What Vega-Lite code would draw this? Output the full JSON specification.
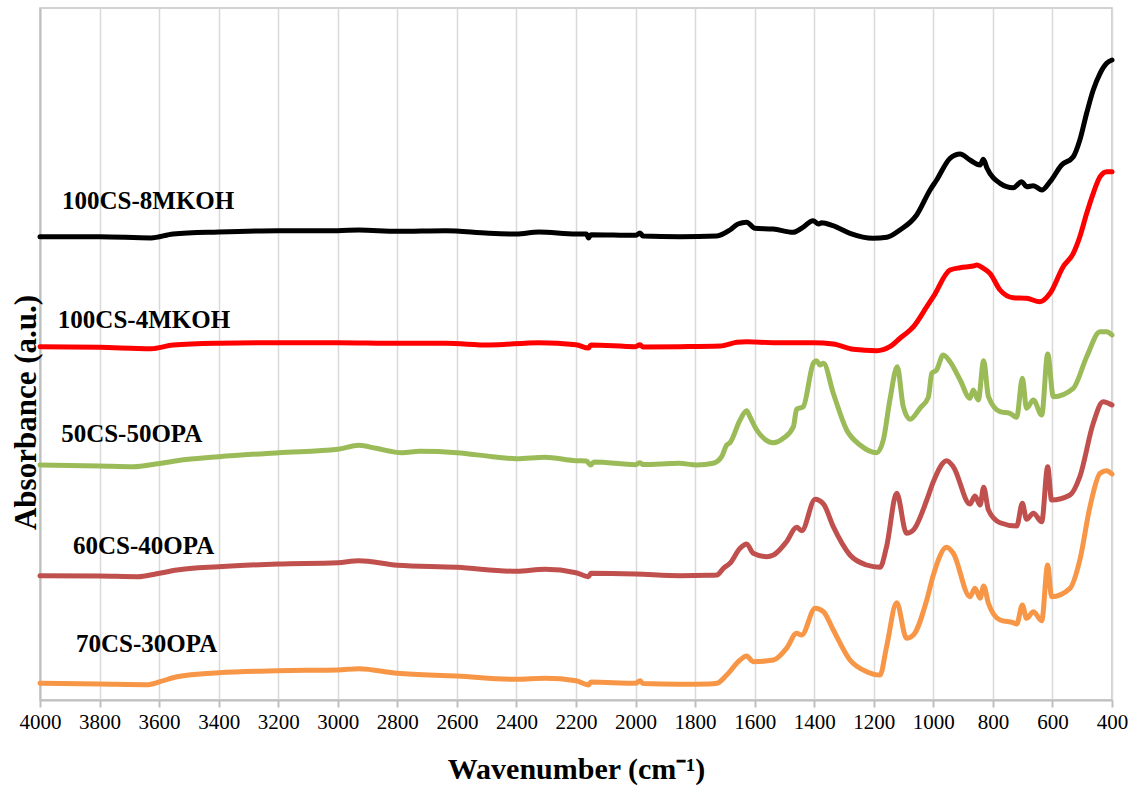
{
  "$schema": "https://vega.github.io/schema/vega-lite/v6.json",
  "width": 1072,
  "height": 692,
  "autosize": {"type": "none"},
  "padding": {"left": 40, "top": 8, "right": 28, "bottom": 91},
  "background": "white",
  "config": {
    "view": {"stroke": "#c4c4c4", "strokeWidth": 1.5},
    "font": "Liberation Serif",
    "axis": {"labelFont": "Liberation Serif", "titleFont": "Liberation Serif"},
    "text": {"font": "Liberation Serif"}
  },
  "datasets": {
    "spectra": [
      {"s":"100CS-8MKOH","w":4000,"a":4.633},{"s":"100CS-8MKOH","w":3800,"a":4.633},{"s":"100CS-8MKOH","w":3627,"a":4.62},{"s":"100CS-8MKOH","w":3553,"a":4.66},{"s":"100CS-8MKOH","w":3400,"a":4.68},{"s":"100CS-8MKOH","w":3200,"a":4.693},{"s":"100CS-8MKOH","w":3000,"a":4.693},{"s":"100CS-8MKOH","w":2929,"a":4.70},{"s":"100CS-8MKOH","w":2800,"a":4.687},{"s":"100CS-8MKOH","w":2638,"a":4.693},{"s":"100CS-8MKOH","w":2492,"a":4.667},{"s":"100CS-8MKOH","w":2400,"a":4.66},{"s":"100CS-8MKOH","w":2325,"a":4.68},{"s":"100CS-8MKOH","w":2200,"a":4.66},{"s":"100CS-8MKOH","w":2165,"a":4.66},{"s":"100CS-8MKOH","w":2158,"a":4.62},{"s":"100CS-8MKOH","w":2150,"a":4.653},{"s":"100CS-8MKOH","w":2000,"a":4.647},{"s":"100CS-8MKOH","w":1985,"a":4.67},{"s":"100CS-8MKOH","w":1975,"a":4.64},{"s":"100CS-8MKOH","w":1851,"a":4.633},{"s":"100CS-8MKOH","w":1727,"a":4.64},{"s":"100CS-8MKOH","w":1683,"a":4.70},{"s":"100CS-8MKOH","w":1656,"a":4.76},{"s":"100CS-8MKOH","w":1627,"a":4.777},{"s":"100CS-8MKOH","w":1599,"a":4.717},{"s":"100CS-8MKOH","w":1538,"a":4.71},{"s":"100CS-8MKOH","w":1471,"a":4.677},{"s":"100CS-8MKOH","w":1438,"a":4.727},{"s":"100CS-8MKOH","w":1404,"a":4.793},{"s":"100CS-8MKOH","w":1385,"a":4.76},{"s":"100CS-8MKOH","w":1375,"a":4.773},{"s":"100CS-8MKOH","w":1337,"a":4.743},{"s":"100CS-8MKOH","w":1280,"a":4.667},{"s":"100CS-8MKOH","w":1203,"a":4.617},{"s":"100CS-8MKOH","w":1156,"a":4.627},{"s":"100CS-8MKOH","w":1112,"a":4.70},{"s":"100CS-8MKOH","w":1056,"a":4.85},{"s":"100CS-8MKOH","w":1011,"a":5.10},{"s":"100CS-8MKOH","w":989,"a":5.20},{"s":"100CS-8MKOH","w":944,"a":5.417},{"s":"100CS-8MKOH","w":910,"a":5.46},{"s":"100CS-8MKOH","w":877,"a":5.40},{"s":"100CS-8MKOH","w":843,"a":5.35},{"s":"100CS-8MKOH","w":832,"a":5.407},{"s":"100CS-8MKOH","w":820,"a":5.32},{"s":"100CS-8MKOH","w":776,"a":5.167},{"s":"100CS-8MKOH","w":732,"a":5.123},{"s":"100CS-8MKOH","w":703,"a":5.183},{"s":"100CS-8MKOH","w":687,"a":5.133},{"s":"100CS-8MKOH","w":664,"a":5.143},{"s":"100CS-8MKOH","w":636,"a":5.10},{"s":"100CS-8MKOH","w":608,"a":5.183},{"s":"100CS-8MKOH","w":569,"a":5.35},{"s":"100CS-8MKOH","w":530,"a":5.433},{"s":"100CS-8MKOH","w":508,"a":5.60},{"s":"100CS-8MKOH","w":485,"a":5.87},{"s":"100CS-8MKOH","w":463,"a":6.10},{"s":"100CS-8MKOH","w":440,"a":6.267},{"s":"100CS-8MKOH","w":418,"a":6.367},{"s":"100CS-8MKOH","w":400,"a":6.40},

      {"s":"100CS-4MKOH","w":4000,"a":3.533},{"s":"100CS-4MKOH","w":3800,"a":3.527},{"s":"100CS-4MKOH","w":3627,"a":3.513},{"s":"100CS-4MKOH","w":3553,"a":3.55},{"s":"100CS-4MKOH","w":3400,"a":3.567},{"s":"100CS-4MKOH","w":3200,"a":3.573},{"s":"100CS-4MKOH","w":3000,"a":3.573},{"s":"100CS-4MKOH","w":2800,"a":3.567},{"s":"100CS-4MKOH","w":2638,"a":3.567},{"s":"100CS-4MKOH","w":2492,"a":3.55},{"s":"100CS-4MKOH","w":2325,"a":3.573},{"s":"100CS-4MKOH","w":2200,"a":3.553},{"s":"100CS-4MKOH","w":2158,"a":3.52},{"s":"100CS-4MKOH","w":2150,"a":3.55},{"s":"100CS-4MKOH","w":2000,"a":3.533},{"s":"100CS-4MKOH","w":1985,"a":3.553},{"s":"100CS-4MKOH","w":1975,"a":3.53},{"s":"100CS-4MKOH","w":1851,"a":3.533},{"s":"100CS-4MKOH","w":1716,"a":3.54},{"s":"100CS-4MKOH","w":1660,"a":3.577},{"s":"100CS-4MKOH","w":1627,"a":3.583},{"s":"100CS-4MKOH","w":1537,"a":3.573},{"s":"100CS-4MKOH","w":1403,"a":3.573},{"s":"100CS-4MKOH","w":1336,"a":3.56},{"s":"100CS-4MKOH","w":1269,"a":3.507},{"s":"100CS-4MKOH","w":1190,"a":3.493},{"s":"100CS-4MKOH","w":1146,"a":3.533},{"s":"100CS-4MKOH","w":1112,"a":3.617},{"s":"100CS-4MKOH","w":1078,"a":3.70},{"s":"100CS-4MKOH","w":1067,"a":3.733},{"s":"100CS-4MKOH","w":1022,"a":3.933},{"s":"100CS-4MKOH","w":1000,"a":4.033},{"s":"100CS-4MKOH","w":944,"a":4.30},{"s":"100CS-4MKOH","w":910,"a":4.323},{"s":"100CS-4MKOH","w":866,"a":4.34},{"s":"100CS-4MKOH","w":854,"a":4.35},{"s":"100CS-4MKOH","w":832,"a":4.317},{"s":"100CS-4MKOH","w":810,"a":4.267},{"s":"100CS-4MKOH","w":776,"a":4.10},{"s":"100CS-4MKOH","w":732,"a":4.023},{"s":"100CS-4MKOH","w":687,"a":4.017},{"s":"100CS-4MKOH","w":642,"a":3.983},{"s":"100CS-4MKOH","w":608,"a":4.067},{"s":"100CS-4MKOH","w":564,"a":4.333},{"s":"100CS-4MKOH","w":530,"a":4.467},{"s":"100CS-4MKOH","w":508,"a":4.633},{"s":"100CS-4MKOH","w":485,"a":4.867},{"s":"100CS-4MKOH","w":463,"a":5.067},{"s":"100CS-4MKOH","w":440,"a":5.233},{"s":"100CS-4MKOH","w":418,"a":5.283},{"s":"100CS-4MKOH","w":400,"a":5.283},

      {"s":"50CS-50OPA","w":4000,"a":2.35},{"s":"50CS-50OPA","w":3800,"a":2.34},{"s":"50CS-50OPA","w":3685,"a":2.333},{"s":"50CS-50OPA","w":3612,"a":2.36},{"s":"50CS-50OPA","w":3540,"a":2.393},{"s":"50CS-50OPA","w":3400,"a":2.433},{"s":"50CS-50OPA","w":3200,"a":2.473},{"s":"50CS-50OPA","w":3000,"a":2.507},{"s":"50CS-50OPA","w":2929,"a":2.547},{"s":"50CS-50OPA","w":2871,"a":2.517},{"s":"50CS-50OPA","w":2784,"a":2.473},{"s":"50CS-50OPA","w":2725,"a":2.487},{"s":"50CS-50OPA","w":2600,"a":2.473},{"s":"50CS-50OPA","w":2480,"a":2.433},{"s":"50CS-50OPA","w":2400,"a":2.413},{"s":"50CS-50OPA","w":2304,"a":2.427},{"s":"50CS-50OPA","w":2200,"a":2.393},{"s":"50CS-50OPA","w":2165,"a":2.39},{"s":"50CS-50OPA","w":2151,"a":2.35},{"s":"50CS-50OPA","w":2140,"a":2.38},{"s":"50CS-50OPA","w":2000,"a":2.353},{"s":"50CS-50OPA","w":1985,"a":2.373},{"s":"50CS-50OPA","w":1975,"a":2.355},{"s":"50CS-50OPA","w":1854,"a":2.367},{"s":"50CS-50OPA","w":1795,"a":2.35},{"s":"50CS-50OPA","w":1739,"a":2.367},{"s":"50CS-50OPA","w":1711,"a":2.433},{"s":"50CS-50OPA","w":1694,"a":2.55},{"s":"50CS-50OPA","w":1683,"a":2.573},{"s":"50CS-50OPA","w":1649,"a":2.80},{"s":"50CS-50OPA","w":1627,"a":2.893},{"s":"50CS-50OPA","w":1616,"a":2.833},{"s":"50CS-50OPA","w":1593,"a":2.70},{"s":"50CS-50OPA","w":1537,"a":2.573},{"s":"50CS-50OPA","w":1504,"a":2.617},{"s":"50CS-50OPA","w":1470,"a":2.733},{"s":"50CS-50OPA","w":1459,"a":2.907},{"s":"50CS-50OPA","w":1437,"a":2.933},{"s":"50CS-50OPA","w":1403,"a":3.367},{"s":"50CS-50OPA","w":1392,"a":3.393},{"s":"50CS-50OPA","w":1381,"a":3.35},{"s":"50CS-50OPA","w":1369,"a":3.367},{"s":"50CS-50OPA","w":1336,"a":3.067},{"s":"50CS-50OPA","w":1291,"a":2.70},{"s":"50CS-50OPA","w":1246,"a":2.55},{"s":"50CS-50OPA","w":1190,"a":2.473},{"s":"50CS-50OPA","w":1168,"a":2.60},{"s":"50CS-50OPA","w":1146,"a":3.00},{"s":"50CS-50OPA","w":1121,"a":3.333},{"s":"50CS-50OPA","w":1101,"a":2.933},{"s":"50CS-50OPA","w":1078,"a":2.807},{"s":"50CS-50OPA","w":1045,"a":2.917},{"s":"50CS-50OPA","w":1017,"a":3.027},{"s":"50CS-50OPA","w":1005,"a":3.267},{"s":"50CS-50OPA","w":989,"a":3.30},{"s":"50CS-50OPA","w":967,"a":3.45},{"s":"50CS-50OPA","w":944,"a":3.383},{"s":"50CS-50OPA","w":910,"a":3.20},{"s":"50CS-50OPA","w":877,"a":3.017},{"s":"50CS-50OPA","w":866,"a":3.10},{"s":"50CS-50OPA","w":849,"a":3.00},{"s":"50CS-50OPA","w":831,"a":3.393},{"s":"50CS-50OPA","w":815,"a":3.033},{"s":"50CS-50OPA","w":776,"a":2.883},{"s":"50CS-50OPA","w":743,"a":2.867},{"s":"50CS-50OPA","w":720,"a":2.827},{"s":"50CS-50OPA","w":701,"a":3.217},{"s":"50CS-50OPA","w":687,"a":2.917},{"s":"50CS-50OPA","w":664,"a":3.00},{"s":"50CS-50OPA","w":636,"a":2.85},{"s":"50CS-50OPA","w":616,"a":3.46},{"s":"50CS-50OPA","w":597,"a":3.033},{"s":"50CS-50OPA","w":530,"a":3.117},{"s":"50CS-50OPA","w":485,"a":3.433},{"s":"50CS-50OPA","w":440,"a":3.683},{"s":"50CS-50OPA","w":418,"a":3.683},{"s":"50CS-50OPA","w":400,"a":3.65},

      {"s":"60CS-40OPA","w":4000,"a":1.243},{"s":"60CS-40OPA","w":3800,"a":1.24},{"s":"60CS-40OPA","w":3671,"a":1.233},{"s":"60CS-40OPA","w":3612,"a":1.26},{"s":"60CS-40OPA","w":3540,"a":1.30},{"s":"60CS-40OPA","w":3400,"a":1.333},{"s":"60CS-40OPA","w":3200,"a":1.36},{"s":"60CS-40OPA","w":3000,"a":1.373},{"s":"60CS-40OPA","w":2929,"a":1.393},{"s":"60CS-40OPA","w":2800,"a":1.347},{"s":"60CS-40OPA","w":2600,"a":1.327},{"s":"60CS-40OPA","w":2400,"a":1.287},{"s":"60CS-40OPA","w":2304,"a":1.307},{"s":"60CS-40OPA","w":2200,"a":1.273},{"s":"60CS-40OPA","w":2158,"a":1.233},{"s":"60CS-40OPA","w":2150,"a":1.267},{"s":"60CS-40OPA","w":2000,"a":1.26},{"s":"60CS-40OPA","w":1851,"a":1.243},{"s":"60CS-40OPA","w":1754,"a":1.247},{"s":"60CS-40OPA","w":1727,"a":1.25},{"s":"60CS-40OPA","w":1705,"a":1.317},{"s":"60CS-40OPA","w":1683,"a":1.367},{"s":"60CS-40OPA","w":1649,"a":1.517},{"s":"60CS-40OPA","w":1627,"a":1.56},{"s":"60CS-40OPA","w":1605,"a":1.467},{"s":"60CS-40OPA","w":1560,"a":1.433},{"s":"60CS-40OPA","w":1537,"a":1.45},{"s":"60CS-40OPA","w":1493,"a":1.583},{"s":"60CS-40OPA","w":1459,"a":1.727},{"s":"60CS-40OPA","w":1442,"a":1.693},{"s":"60CS-40OPA","w":1397,"a":2.007},{"s":"60CS-40OPA","w":1369,"a":1.96},{"s":"60CS-40OPA","w":1336,"a":1.733},{"s":"60CS-40OPA","w":1280,"a":1.45},{"s":"60CS-40OPA","w":1224,"a":1.35},{"s":"60CS-40OPA","w":1179,"a":1.327},{"s":"60CS-40OPA","w":1157,"a":1.533},{"s":"60CS-40OPA","w":1123,"a":2.067},{"s":"60CS-40OPA","w":1090,"a":1.667},{"s":"60CS-40OPA","w":1067,"a":1.70},{"s":"60CS-40OPA","w":1022,"a":2.00},{"s":"60CS-40OPA","w":1000,"a":2.183},{"s":"60CS-40OPA","w":955,"a":2.393},{"s":"60CS-40OPA","w":933,"a":2.333},{"s":"60CS-40OPA","w":877,"a":1.96},{"s":"60CS-40OPA","w":860,"a":2.04},{"s":"60CS-40OPA","w":843,"a":1.95},{"s":"60CS-40OPA","w":831,"a":2.127},{"s":"60CS-40OPA","w":815,"a":1.90},{"s":"60CS-40OPA","w":776,"a":1.773},{"s":"60CS-40OPA","w":720,"a":1.74},{"s":"60CS-40OPA","w":701,"a":1.967},{"s":"60CS-40OPA","w":687,"a":1.807},{"s":"60CS-40OPA","w":664,"a":1.867},{"s":"60CS-40OPA","w":636,"a":1.783},{"s":"60CS-40OPA","w":616,"a":2.333},{"s":"60CS-40OPA","w":603,"a":2.00},{"s":"60CS-40OPA","w":541,"a":2.05},{"s":"60CS-40OPA","w":508,"a":2.233},{"s":"60CS-40OPA","w":463,"a":2.767},{"s":"60CS-40OPA","w":430,"a":2.983},{"s":"60CS-40OPA","w":400,"a":2.95},

      {"s":"70CS-30OPA","w":4000,"a":0.167},{"s":"70CS-30OPA","w":3800,"a":0.16},{"s":"70CS-30OPA","w":3641,"a":0.153},{"s":"70CS-30OPA","w":3597,"a":0.183},{"s":"70CS-30OPA","w":3540,"a":0.233},{"s":"70CS-30OPA","w":3400,"a":0.273},{"s":"70CS-30OPA","w":3200,"a":0.293},{"s":"70CS-30OPA","w":3000,"a":0.30},{"s":"70CS-30OPA","w":2929,"a":0.313},{"s":"70CS-30OPA","w":2800,"a":0.267},{"s":"70CS-30OPA","w":2600,"a":0.24},{"s":"70CS-30OPA","w":2400,"a":0.207},{"s":"70CS-30OPA","w":2304,"a":0.217},{"s":"70CS-30OPA","w":2200,"a":0.193},{"s":"70CS-30OPA","w":2158,"a":0.15},{"s":"70CS-30OPA","w":2150,"a":0.18},{"s":"70CS-30OPA","w":2000,"a":0.167},{"s":"70CS-30OPA","w":1985,"a":0.193},{"s":"70CS-30OPA","w":1975,"a":0.165},{"s":"70CS-30OPA","w":1851,"a":0.157},{"s":"70CS-30OPA","w":1754,"a":0.16},{"s":"70CS-30OPA","w":1727,"a":0.167},{"s":"70CS-30OPA","w":1694,"a":0.25},{"s":"70CS-30OPA","w":1649,"a":0.40},{"s":"70CS-30OPA","w":1627,"a":0.44},{"s":"70CS-30OPA","w":1605,"a":0.383},{"s":"70CS-30OPA","w":1537,"a":0.40},{"s":"70CS-30OPA","w":1493,"a":0.517},{"s":"70CS-30OPA","w":1459,"a":0.667},{"s":"70CS-30OPA","w":1442,"a":0.65},{"s":"70CS-30OPA","w":1397,"a":0.917},{"s":"70CS-30OPA","w":1369,"a":0.883},{"s":"70CS-30OPA","w":1336,"a":0.70},{"s":"70CS-30OPA","w":1280,"a":0.40},{"s":"70CS-30OPA","w":1224,"a":0.283},{"s":"70CS-30OPA","w":1179,"a":0.25},{"s":"70CS-30OPA","w":1157,"a":0.533},{"s":"70CS-30OPA","w":1123,"a":0.973},{"s":"70CS-30OPA","w":1090,"a":0.617},{"s":"70CS-30OPA","w":1067,"a":0.65},{"s":"70CS-30OPA","w":1022,"a":1.00},{"s":"70CS-30OPA","w":1000,"a":1.25},{"s":"70CS-30OPA","w":955,"a":1.527},{"s":"70CS-30OPA","w":933,"a":1.467},{"s":"70CS-30OPA","w":877,"a":1.033},{"s":"70CS-30OPA","w":860,"a":1.117},{"s":"70CS-30OPA","w":843,"a":1.017},{"s":"70CS-30OPA","w":831,"a":1.14},{"s":"70CS-30OPA","w":815,"a":0.967},{"s":"70CS-30OPA","w":776,"a":0.80},{"s":"70CS-30OPA","w":732,"a":0.773},{"s":"70CS-30OPA","w":720,"a":0.76},{"s":"70CS-30OPA","w":701,"a":0.95},{"s":"70CS-30OPA","w":687,"a":0.817},{"s":"70CS-30OPA","w":664,"a":0.883},{"s":"70CS-30OPA","w":636,"a":0.793},{"s":"70CS-30OPA","w":616,"a":1.35},{"s":"70CS-30OPA","w":603,"a":1.033},{"s":"70CS-30OPA","w":541,"a":1.117},{"s":"70CS-30OPA","w":508,"a":1.40},{"s":"70CS-30OPA","w":474,"a":1.933},{"s":"70CS-30OPA","w":440,"a":2.267},{"s":"70CS-30OPA","w":418,"a":2.293},{"s":"70CS-30OPA","w":400,"a":2.26}
    ],
    "labels": [
      {"label":"100CS-8MKOH","w":3926,"a":4.91},
      {"label":"100CS-4MKOH","w":3940,"a":3.72},
      {"label":"50CS-50OPA","w":3929,"a":2.58},
      {"label":"60CS-40OPA","w":3889,"a":1.46},
      {"label":"70CS-30OPA","w":3879,"a":0.48}
    ]
  },
  "encoding": {
    "x": {
      "field": "w",
      "type": "quantitative",
      "scale": {"domain": [400, 4000], "reverse": true, "nice": false, "zero": false},
      "axis": {
        "values": [4000,3800,3600,3400,3200,3000,2800,2600,2400,2200,2000,1800,1600,1400,1200,1000,800,600,400],
        "format": "d",
        "title": "Wavenumber (cm⁻¹)",
        "titleFont": "Liberation Serif",
        "titleFontSize": 30,
        "titleFontWeight": "bold",
        "titleColor": "#000000",
        "titleY": 78,
        "titleBaseline": "alphabetic",
        "labelFont": "Liberation Serif",
        "labelFontSize": 21,
        "labelColor": "#000000",
        "labelPadding": 4,
        "labelFlush": false,
        "labelOverlap": false,
        "grid": true,
        "gridColor": "#d9d9d9",
        "gridWidth": 1.5,
        "domainColor": "#bfbfbf",
        "domainWidth": 2,
        "tickColor": "#bfbfbf",
        "tickWidth": 2,
        "tickSize": 7
      }
    },
    "y": {
      "field": "a",
      "type": "quantitative",
      "scale": {"domain": [0, 6.92], "nice": false, "zero": false},
      "axis": {
        "title": "Absorbance (a.u.)",
        "titleFont": "Liberation Serif",
        "titleFontSize": 31,
        "titleFontWeight": "bold",
        "titleColor": "#000000",
        "titleX": -5,
        "titleY": 404,
        "titleBaseline": "alphabetic",
        "labels": false,
        "ticks": false,
        "grid": false,
        "domainColor": "#bfbfbf",
        "domainWidth": 2
      }
    }
  },
  "layer": [
    {
      "data": {"name": "spectra"},
      "mark": {"type": "line", "strokeWidth": 5, "strokeJoin": "round", "strokeCap": "round", "interpolate": "monotone"},
      "encoding": {
        "color": {
          "field": "s",
          "type": "nominal",
          "scale": {
            "domain": ["100CS-8MKOH","100CS-4MKOH","50CS-50OPA","60CS-40OPA","70CS-30OPA"],
            "range": ["#000000","#ff0000","#9bbb59","#c0504d","#f79646"]
          },
          "legend": null
        }
      }
    },
    {
      "data": {"name": "labels"},
      "mark": {"type": "text", "align": "left", "baseline": "alphabetic", "font": "Liberation Serif", "fontSize": 25, "fontWeight": "bold", "color": "#000000"},
      "encoding": {
        "text": {"field": "label", "type": "nominal"}
      }
    }
  ]
}
